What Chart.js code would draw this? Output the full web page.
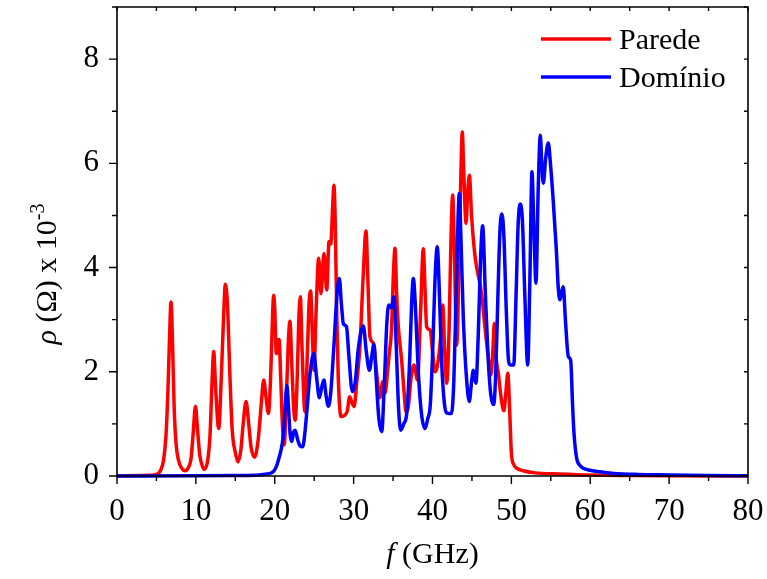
<!DOCTYPE html>
<html>
<head>
<meta charset="utf-8">
<script src="https://cdn.jsdelivr.net/npm/chart.js@4"></script>
<style>
  html, body { margin: 0; padding: 0; background: #fff; }
  #wrap { width: 767px; height: 579px; }
</style>
</head>
<body>
<div id="wrap"><canvas id="chart"></canvas></div>
<script>
// frequency (GHz) and resistivity (x 10^-3 Ohm)
const fParede = [0, 3, 5, 5.5, 5.9, 6.2, 6.45, 6.65, 6.85, 7.05,
  7.25, 7.5, 7.8, 8.2, 8.6, 9.0, 9.4, 9.65, 9.95, 10.2,
  10.5, 10.8, 11.1, 11.5, 11.8, 12.05, 12.26, 12.5, 12.9, 13.2,
  13.5, 13.74, 14.0, 14.3, 14.6, 15.0, 15.34, 15.7, 16.0, 16.36,
  16.7, 17.0, 17.45, 17.9, 18.3, 18.6, 18.9, 19.2, 19.5, 19.75,
  19.87, 20.0, 20.2, 20.4, 20.55, 20.75, 21.0, 21.2, 21.45, 21.7,
  21.93, 22.15, 22.4, 22.6, 22.85, 23.05, 23.25, 23.45, 23.83, 24.1,
  24.35, 24.55, 24.75, 24.97, 25.25, 25.57, 25.86, 26.24, 26.59, 26.88,
  27.1, 27.35, 27.5, 27.65, 27.85, 28.05, 28.4, 28.65, 28.9, 29.2,
  29.5, 29.8, 30.05, 30.4, 30.8, 31.2, 31.57, 31.8, 32.07, 32.5,
  32.9, 33.34, 33.68, 33.98, 34.3, 34.52, 34.8, 35.05, 35.25, 35.45,
  35.67, 36.09, 36.4, 36.64, 36.9, 37.3, 37.65, 38.1, 38.5, 38.83,
  39.05, 39.26, 39.7, 40.0, 40.3, 40.6, 41.0, 41.3, 41.55, 41.8,
  42.1, 42.35, 42.56, 42.75, 43.07, 43.35, 43.6, 43.78, 43.95, 44.25,
  44.45, 44.68, 44.95, 45.3, 45.6, 46.15, 46.65, 47.05, 47.42, 47.65,
  47.84, 48.05, 48.35, 48.7, 49.05, 49.3, 49.55, 49.8, 50.0, 50.3,
  50.66, 51.5, 53, 56, 60, 65, 70, 80];
const rhoParede = [0, 0.01, 0.03, 0.1, 0.3, 0.75, 1.6, 2.6, 3.34, 2.5,
  1.3, 0.6, 0.3, 0.15, 0.1, 0.15, 0.35, 0.8, 1.34, 0.9,
  0.4, 0.2, 0.13, 0.3, 0.8, 1.8, 2.39, 1.7, 0.91, 1.8,
  3.0, 3.68, 3.3, 2.0, 0.9, 0.45, 0.27, 0.5, 1.0, 1.43,
  1.0, 0.55, 0.36, 0.7, 1.4, 1.84, 1.5, 1.2, 2.0, 3.2,
  3.47, 3.2, 2.35, 2.6, 2.62, 1.9, 0.9, 0.6, 1.4, 2.5,
  2.97, 2.2, 1.3, 1.07, 1.9, 3.0, 3.44, 2.5, 1.23, 2.2,
  3.3, 3.55, 2.8, 2.03, 3.2, 4.18, 3.5, 4.27, 3.57, 4.5,
  4.45, 5.2, 5.58, 5.0, 3.2, 1.9, 1.14, 1.15, 1.17, 1.25,
  1.52, 1.4, 1.33, 1.8, 2.48, 3.8, 4.7, 3.8, 2.67, 2.55,
  2.0, 1.5, 1.81, 1.59, 2.0, 2.35, 2.8, 3.9, 4.37, 3.5,
  2.86, 2.22, 1.6, 1.23, 1.3, 1.9, 2.13, 1.84, 3.2, 4.36,
  3.6, 2.86, 2.8, 2.4, 2.0, 2.1, 2.6, 3.28, 2.4, 1.78,
  2.8, 4.6, 5.39, 4.5, 2.51, 4.0, 5.8, 6.6, 5.9, 4.85,
  5.4, 5.77, 5.0, 4.34, 4.0, 3.57, 2.86, 2.3, 1.94, 2.4,
  2.93, 2.3, 1.97, 1.5, 1.25, 1.6, 1.97, 1.2, 0.44, 0.22,
  0.15, 0.1, 0.06, 0.04, 0.02, 0.01, 0.005, 0];

const fDominio = [0, 10, 15, 18, 19, 19.8, 20.2, 20.45, 20.8, 21.1,
  21.35, 21.55, 21.75, 21.95, 22.15, 22.4, 22.6, 22.9, 23.2, 23.54,
  23.8, 24.1, 24.5, 24.95, 25.3, 25.66, 25.95, 26.24, 26.5, 26.8,
  27.1, 27.5, 27.9, 28.19, 28.45, 28.7, 29.1, 29.4, 29.83, 30.2,
  30.6, 31.23, 31.6, 32.0, 32.3, 32.58, 32.85, 33.2, 33.56, 33.9,
  34.2, 34.45, 34.8, 35.1, 35.4, 35.7, 35.97, 36.35, 36.73, 37.1,
  37.35, 37.57, 37.85, 38.2, 38.6, 39.05, 39.4, 39.7, 40.0, 40.3,
  40.6, 40.9, 41.15, 41.5, 41.8, 42.1, 42.4, 42.7, 43.0, 43.25,
  43.4, 43.6, 43.9, 44.3, 44.67, 44.95, 45.18, 45.5, 45.8, 46.1,
  46.36, 46.7, 47.07, 47.4, 47.75, 48.0, 48.3, 48.55, 48.8, 49.05,
  49.35, 49.65, 49.85, 50.3, 50.6, 50.85, 51.1, 51.4, 51.7, 52.07,
  52.35, 52.61, 52.85, 53.12, 53.4, 53.67, 53.85, 54.05, 54.35, 54.68,
  54.95, 55.3, 55.7, 55.95, 56.16, 56.4, 56.58, 56.85, 57.22, 57.52,
  57.75, 57.94, 58.28, 58.7, 59.1, 60, 61.2, 63, 66, 70,
  75, 80];
const rhoDominio = [0, 0.003, 0.01, 0.02, 0.04, 0.08, 0.18, 0.3, 0.5, 0.8,
  1.4, 1.73, 1.3, 0.8, 0.66, 0.85, 0.88, 0.7, 0.58, 0.56,
  0.8, 1.3, 2.0, 2.35, 1.9, 1.5, 1.7, 1.84, 1.55, 1.34,
  1.6, 2.5, 3.5, 3.79, 3.3, 2.92, 2.86, 2.3, 1.62, 1.8,
  2.45, 2.88, 2.4, 2.03, 2.3, 2.53, 1.9, 1.1, 0.85, 1.8,
  2.9, 3.28, 3.23, 3.44, 2.5, 1.3, 0.88, 1.0, 1.2, 2.2,
  3.3, 3.79, 3.2, 2.0, 1.2, 0.91, 1.1, 1.33, 2.3, 3.7,
  4.4, 3.4, 2.22, 1.4, 1.21, 1.2, 1.2, 1.8, 3.5, 5.0,
  5.42, 4.6, 3.06, 1.9, 1.43, 1.8, 2.03, 1.78, 2.7, 4.2,
  4.8, 3.5, 2.22, 1.55, 1.37, 1.9, 3.5, 4.7, 5.03, 4.6,
  3.2, 2.2, 2.13, 2.13, 3.5, 4.8, 5.22, 4.9, 3.5, 2.13,
  3.8, 5.84, 4.8, 3.7, 5.5, 6.54, 6.0, 5.62, 6.1, 6.39,
  6.0, 5.3, 4.34, 3.6, 3.38, 3.55, 3.63, 3.0, 2.29, 2.22,
  1.4, 0.82, 0.34, 0.2, 0.15, 0.11, 0.08, 0.05, 0.03, 0.02,
  0.01, 0.005];

const xTicks = [0, 10, 20, 30, 40, 50, 60, 70, 80];
const yTicks = [0, 2, 4, 6, 8];

const SERIF = "'Liberation Serif', 'Times New Roman', serif";

function toPoints(xs, ys) {
  return xs.map((x, i) => ({ x: x, y: ys[i] }));
}

// frame, minor ticks, legend and axis titles (Origin style)
const originFrame = {
  id: 'originFrame',
  afterDraw(chart) {
    const ctx = chart.ctx;
    const { left, right, top, bottom } = chart.chartArea;
    const xs = chart.scales.x;
    const ys = chart.scales.y;
    ctx.save();
    ctx.strokeStyle = '#000';
    ctx.lineWidth = 1.6;
    ctx.lineCap = 'butt';
    ctx.beginPath();
    ctx.rect(left, top, right - left, bottom - top);
    ctx.stroke();

    ctx.lineWidth = 1.4;
    ctx.beginPath();
    for (let v = 0; v <= 80; v += 5) {
      const px = xs.getPixelForValue(v);
      const len = v % 10 === 0 ? 8 : 5;
      ctx.moveTo(px, bottom);
      ctx.lineTo(px, bottom + len);
      ctx.moveTo(px, top);
      ctx.lineTo(px, top + 4);
    }
    for (let v = 0; v <= 9; v += 1) {
      const py = ys.getPixelForValue(v);
      const len = v % 2 === 0 ? 8 : 5;
      ctx.moveTo(left, py);
      ctx.lineTo(left - len, py);
      ctx.moveTo(right, py);
      ctx.lineTo(right - 4, py);
    }
    ctx.stroke();

    // legend
    ctx.fillStyle = '#000';
    ctx.font = '30px ' + SERIF;
    ctx.textAlign = 'left';
    ctx.textBaseline = 'alphabetic';
    chart.data.datasets.forEach((ds, i) => {
      const y = 39 + i * 38;
      ctx.strokeStyle = ds.borderColor;
      ctx.lineWidth = 3.5;
      ctx.beginPath();
      ctx.moveTo(541, y);
      ctx.lineTo(611, y);
      ctx.stroke();
      ctx.fillText(ds.label, 619, y + 10);
    });

    // x title: f (GHz)
    const cx = (left + right) / 2;
    ctx.font = 'italic 30px ' + SERIF;
    const wf = ctx.measureText('f').width;
    ctx.font = '30px ' + SERIF;
    const wg = ctx.measureText(' (GHz)').width;
    let x0 = cx - (wf + wg) / 2;
    ctx.font = 'italic 30px ' + SERIF;
    ctx.fillText('f', x0, 563);
    ctx.font = '30px ' + SERIF;
    ctx.fillText(' (GHz)', x0 + wf, 563);

    // y title: rho (Omega) x 10^-3
    ctx.translate(46, 274);
    ctx.rotate(-Math.PI / 2);
    const parts = [
      { t: '\u03C1', f: 'italic 30px ' + SERIF, dy: 0 },
      { t: ' (\u03A9) x 10', f: '30px ' + SERIF, dy: 0 },
      { t: '-3', f: '20px ' + SERIF, dy: -12 }
    ];
    let total = 0;
    parts.forEach(p => { ctx.font = p.f; p.w = ctx.measureText(p.t).width; total += p.w; });
    let px = -total / 2;
    parts.forEach(p => {
      ctx.font = p.f;
      ctx.fillText(p.t, px, 10 + p.dy);
      px += p.w;
    });
    ctx.restore();
  }
};

function createChart(element) {
  const data = {
    datasets: [
      {
        label: 'Parede',
        data: toPoints(fParede, rhoParede),
        borderColor: '#ff0000',
        backgroundColor: '#ff0000',
        borderWidth: 3.5,
        pointRadius: 0,
        tension: 0.4,
        cubicInterpolationMode: 'monotone',
        borderJoinStyle: 'round',
        clip: false,
        order: 2
      },
      {
        label: 'Dom\u00EDnio',
        data: toPoints(fDominio, rhoDominio),
        borderColor: '#0000ff',
        backgroundColor: '#0000ff',
        borderWidth: 3.5,
        pointRadius: 0,
        tension: 0.4,
        cubicInterpolationMode: 'monotone',
        borderJoinStyle: 'round',
        clip: false,
        order: 1
      }
    ]
  };

  const config = {
    type: 'line',
    data: data,
    options: {
      responsive: true,
      maintainAspectRatio: false,
      devicePixelRatio: 1,
      animation: false,
      layout: { padding: { left: 0, right: 19, top: 7, bottom: 0 } },
      plugins: { legend: { display: false }, tooltip: { enabled: false } },
      scales: {
        x: {
          type: 'linear',
          min: 0,
          max: 80,
          grid: { display: false },
          border: { display: false },
          ticks: { color: '#000', font: { family: SERIF, size: 31 }, padding: 9, maxRotation: 0 },
          afterBuildTicks: s => { s.ticks = xTicks.map(v => ({ value: v })); },
          afterFit: s => { s.height = 103; s.paddingLeft = 0; s.paddingRight = 0; }
        },
        y: {
          type: 'linear',
          min: 0,
          max: 9,
          grid: { display: false },
          border: { display: false },
          ticks: { color: '#000', font: { family: SERIF, size: 31 }, padding: 10 },
          afterBuildTicks: s => { s.ticks = yTicks.map(v => ({ value: v })); },
          afterFit: s => { s.width = 117; s.paddingTop = 0; s.paddingBottom = 0; }
        }
      }
    },
    plugins: [originFrame]
  };

  return new Chart(element, config);
}

createChart(document.getElementById('chart'));
</script>
</body>
</html>
